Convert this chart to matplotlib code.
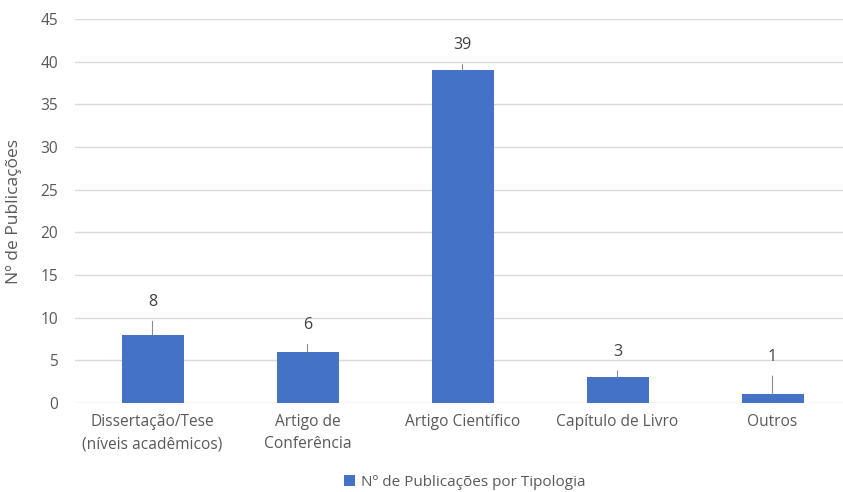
import matplotlib.pyplot as plt

categorias = ["Dissertação/Tese\n(níveis acadêmicos)", "Artigo de\nConferência",
              "Artigo Científico", "Capítulo de Livro", "Outros"]
valores = [8, 6, 39, 3, 1]
# posição (em unidades do eixo y) dos rótulos de dados
pos_rotulos = [11.8, 9.1, 41.9, 6.0, 5.4]
rotulo_serie = "Nº de Publicações por Tipologia"

plt.rcParams['font.family'] = ['Open Sans', 'DejaVu Sans']
cinza = "#595959"
azul = "#4472C4"

fig = plt.figure(figsize=(8.43, 4.92), dpi=100)
ax = fig.add_axes([75 / 843, 89 / 492, 775 / 843, 384 / 492])

x = list(range(len(categorias)))
barras = ax.bar(x, valores, width=0.4, color=azul, label=rotulo_serie, zorder=3)

for xi, v, py in zip(x, valores, pos_rotulos):
    ax.annotate(str(v), xy=(xi, v), xytext=(xi, py), ha="center", va="center",
                fontsize=11.5, color="#404040",
                arrowprops=dict(arrowstyle="-", color="#8c8c8c", lw=0.8,
                                shrinkA=6, shrinkB=0))

ax.set_xlim(-0.5, 4.5)
ax.set_ylim(0, 45)
ax.set_yticks(range(0, 46, 5))
ax.set_xticks(x)
ax.set_xticklabels(categorias, fontsize=11.2, color=cinza, linespacing=1.5)
ax.tick_params(axis="y", labelsize=11.2, labelcolor=cinza, length=0, pad=12)
ax.tick_params(axis="x", length=0, pad=8)
ax.grid(axis="y", color="#d9d9d9", lw=1, zorder=0)
for s in ax.spines.values():
    s.set_visible(False)

ax.set_ylabel("Nº de Publicações", fontsize=12.5, color=cinza)
ax.yaxis.set_label_coords(-0.068, 0.5)

fig.legend(handles=[barras], labels=[rotulo_serie], loc="center",
           bbox_to_anchor=(465 / 843, 1 - 482 / 492), frameon=False,
           fontsize=11, labelcolor=cinza, handlelength=0.7, handleheight=0.7,
           handletextpad=0.4, borderpad=0.2)

fig.savefig("out.png", dpi=100)
